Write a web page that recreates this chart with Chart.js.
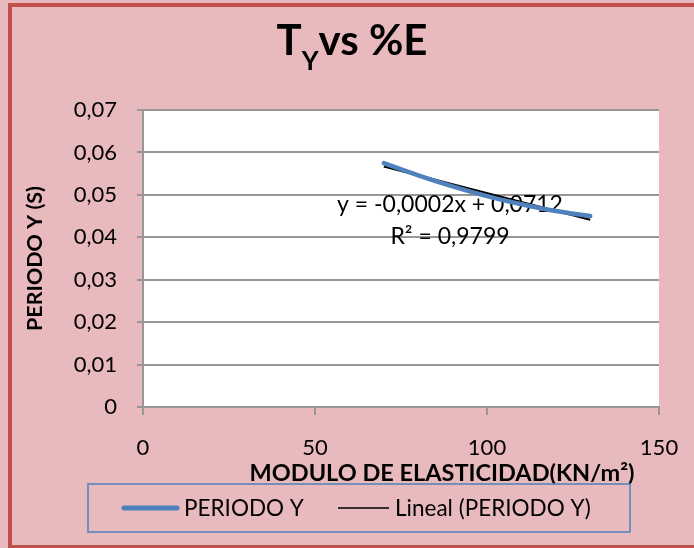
<!DOCTYPE html>
<html>
<head>
<meta charset="utf-8">
<script src="https://cdn.jsdelivr.net/npm/chart.js@4/dist/chart.umd.min.js"></script>
<style>
  html, body { margin: 0; padding: 0; background: #e9bdc1; }
</style>
</head>
<body>
<canvas id="chart" width="694" height="548"></canvas>
<script>
// data
const moduloE = [70, 80, 90, 100, 110, 120, 130];
const periodoY = [0.0575, 0.0546, 0.0520, 0.0497, 0.0478, 0.0462, 0.0450];
const xTicks = [0, 50, 100, 150];
const yTicks = [0, 0.01, 0.02, 0.03, 0.04, 0.05, 0.06, 0.07];

const seriesName = "PERIODO Y";
const trendName = "Lineal (PERIODO Y)";
const trendEquation = "y = -0,0002x + 0,0712";
const trendR2 = "R² = 0,9799";
const xTitle = "MODULO DE ELASTICIDAD(KN/m²)";
const yTitle = "PERIODO Y (S)";

// least squares line, like the excel trendline
const fitLine = (xs, ys) => {
  const n = xs.length;
  const mx = xs.reduce((a, b) => a + b, 0) / n;
  const my = ys.reduce((a, b) => a + b, 0) / n;
  let sxy = 0, sxx = 0;
  xs.forEach((x, i) => {
    sxy += (x - mx) * (ys[i] - my);
    sxx += (x - mx) * (x - mx);
  });
  const slope = sxy / sxx;
  return { slope, intercept: my - slope * mx };
};

const fit = fitLine(moduloE, periodoY);
const xFirst = moduloE[0];
const xLast = moduloE[moduloE.length - 1];
const trendPoints = [xFirst, xLast].map((x) => ({ x, y: fit.intercept + fit.slope * x }));

const FONT = "Lato, 'Open Sans', sans-serif";
const PINK = "#e8b9bd";
const BLUE = "#4f81bd";
const GRID = "#979797";

const decor = {
  id: "decor",
  beforeDraw(chart) {
    const { ctx, chartArea: a } = chart;
    ctx.save();
    ctx.fillStyle = PINK;
    ctx.fillRect(0, 0, chart.width, chart.height);
    ctx.fillStyle = "#ffffff";
    ctx.fillRect(a.left, a.top, a.right - a.left, a.bottom - a.top);
    ctx.restore();
  },
  beforeDatasetsDraw(chart) {
    const { ctx } = chart;
    ctx.save();
    ctx.fillStyle = "#000";
    ctx.font = "23px " + FONT;
    ctx.textAlign = "center";
    ctx.textBaseline = "middle";
    ctx.fillText(trendEquation, 450, 205);
    ctx.fillText(trendR2, 450, 237);
    ctx.restore();
  },
  afterDraw(chart) {
    const { ctx } = chart;
    ctx.save();
    ctx.fillStyle = "#000";

    // title with subscript
    const big = "bold 42px " + FONT;
    const small = "bold 26px " + FONT;
    ctx.textBaseline = "alphabetic";
    ctx.font = big;
    const wT = ctx.measureText("T").width;
    const wRest = ctx.measureText("vs %E").width;
    ctx.font = small;
    const wY = ctx.measureText("Y").width;
    let tx = 352 - (wT + wY + wRest) / 2;
    ctx.textAlign = "left";
    ctx.font = big;
    ctx.fillText("T", tx, 55);
    tx += wT;
    ctx.font = small;
    ctx.fillText("Y", tx, 70);
    tx += wY;
    ctx.font = big;
    ctx.fillText("vs %E", tx, 55);

    // x axis title
    ctx.font = "bold 23.5px " + FONT;
    ctx.textAlign = "center";
    ctx.textBaseline = "middle";
    ctx.fillText(xTitle, 442, 473);

    // legend
    ctx.strokeStyle = BLUE;
    ctx.lineWidth = 1.5;
    ctx.strokeRect(88, 484, 542, 48);
    ctx.lineCap = "round";
    ctx.lineWidth = 5;
    ctx.beginPath();
    ctx.moveTo(124, 508);
    ctx.lineTo(177, 508);
    ctx.stroke();
    ctx.lineCap = "butt";
    ctx.strokeStyle = "#000";
    ctx.lineWidth = 1.5;
    ctx.beginPath();
    ctx.moveTo(338, 508);
    ctx.lineTo(389, 508);
    ctx.stroke();
    ctx.font = "22.5px " + FONT;
    ctx.textAlign = "left";
    ctx.fillText(seriesName, 184, 509);
    ctx.fillText(trendName, 395, 509);

    // frame
    ctx.strokeStyle = "#c0504d";
    ctx.lineWidth = 4;
    ctx.strokeRect(10, 5, 720, 542);
    ctx.restore();
  },
};

new Chart(document.getElementById("chart"), {
  type: "scatter",
  data: {
    datasets: [
      {
        label: seriesName,
        data: moduloE.map((x, i) => ({ x, y: periodoY[i] })),
        showLine: true,
        borderColor: BLUE,
        borderWidth: 4.5,
        borderCapStyle: "round",
        tension: 0.4,
        pointRadius: 0,
      },
      {
        label: trendName,
        data: trendPoints,
        showLine: true,
        borderColor: "#000",
        borderWidth: 2,
        pointRadius: 0,
      },
    ],
  },
  options: {
    responsive: false,
    animation: false,
    devicePixelRatio: 1,
    layout: { padding: { left: 0, right: 35, top: 110, bottom: 0 } },
    plugins: {
      legend: { display: false },
      title: { display: false },
      tooltip: { enabled: false },
    },
    scales: {
      x: {
        type: "linear",
        min: xTicks[0],
        max: xTicks[xTicks.length - 1],
        afterBuildTicks: (s) => { s.ticks = xTicks.map((v) => ({ value: v })); },
        afterFit: (s) => {
          s.height = 141;
          s.paddingLeft = 0;
          s.paddingRight = 0;
        },
        grid: { drawOnChartArea: false, drawTicks: true, tickLength: 8, color: GRID, lineWidth: 2 },
        border: { color: GRID, width: 2 },
        ticks: { color: "#000", padding: 20, maxRotation: 0, font: { family: FONT, size: 22 } },
      },
      y: {
        min: yTicks[0],
        max: yTicks[yTicks.length - 1],
        afterBuildTicks: (s) => { s.ticks = yTicks.map((v) => ({ value: v })); },
        afterFit: (s) => {
          s.width = 143;
          s.paddingTop = 0;
          s.paddingBottom = 0;
        },
        grid: { drawTicks: true, tickLength: 6, color: GRID, lineWidth: 2 },
        border: { color: GRID, width: 2 },
        ticks: {
          color: "#000",
          padding: 20,
          font: { family: FONT, size: 22 },
          callback: (v) => (v === 0 ? "0" : v.toFixed(2).replace(".", ",")),
        },
        title: {
          display: true,
          text: yTitle,
          color: "#000",
          font: { family: FONT, size: 21.5, weight: "bold" },
          padding: { top: 22, bottom: 0 },
        },
      },
    },
  },
  plugins: [decor],
});
</script>
</body>
</html>
